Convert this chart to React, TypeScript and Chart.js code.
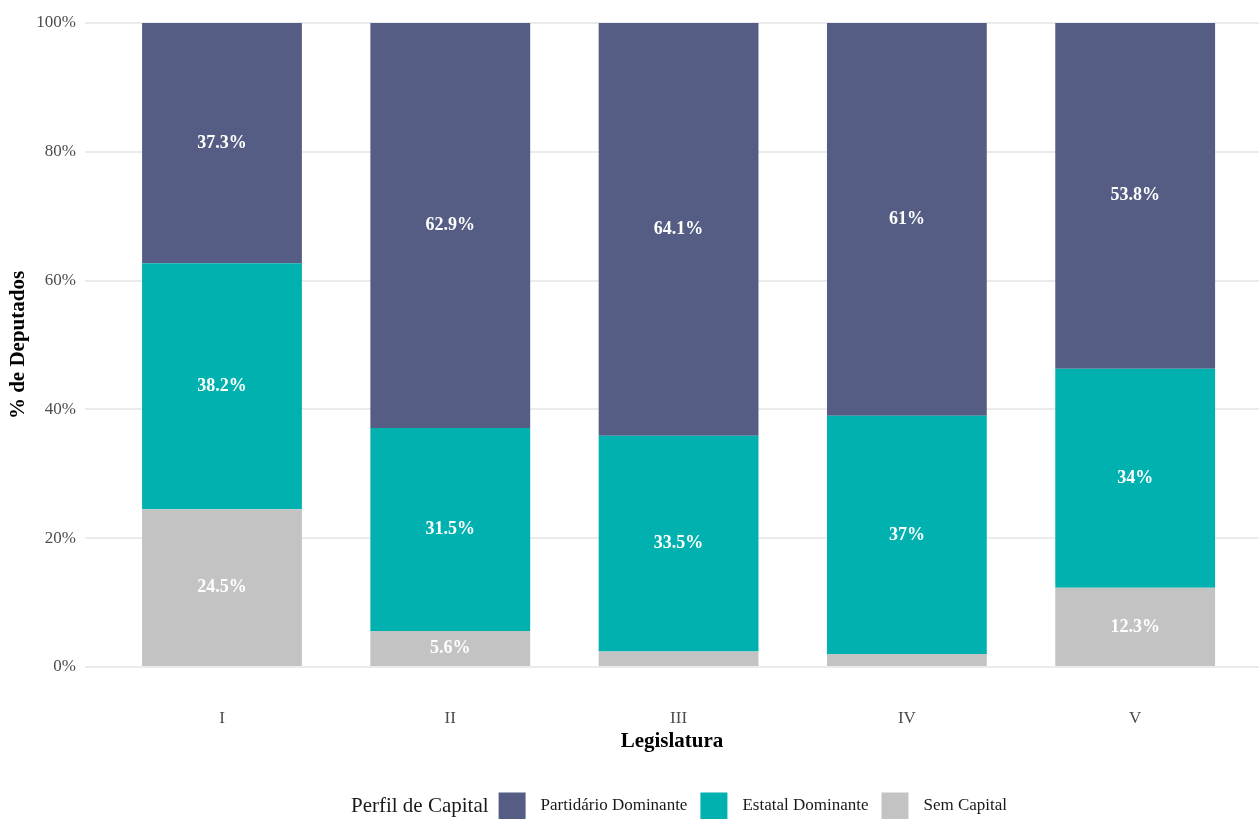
import React, { useEffect, useRef } from "react";
import { Chart, registerables } from "chart.js";

Chart.register(...registerables);

const categories = ["I", "II", "III", "IV", "V"];
const semCapital = [24.5, 5.6, 2.4, 2.0, 12.3];
const estatalDominante = [38.2, 31.5, 33.5, 37, 34];
const partidarioDominante = [37.3, 62.9, 64.1, 61, 53.8];
const yTicks = [0, 20, 40, 60, 80, 100];

const seriesNames = ["Sem Capital", "Estatal Dominante", "Partidário Dominante"];
const seriesColors = ["#c3c3c3", "#00b1b0", "#555d84"];
const legendOrder = [2, 1, 0];
const legendTitle = "Perfil de Capital";

const SERIF = "'Liberation Serif', 'DejaVu Serif', serif";

const labelPlugin = {
  id: "segLabels",
  afterDatasetsDraw(chart: any) {
    const ctx = chart.ctx;
    ctx.save();
    ctx.fillStyle = "#ffffff";
    ctx.font = `bold 18px ${SERIF}`;
    ctx.textAlign = "center";
    ctx.textBaseline = "middle";
    chart.data.datasets.forEach((ds: any, di: number) => {
      const meta = chart.getDatasetMeta(di);
      meta.data.forEach((el: any, i: number) => {
        const v = ds.data[i].y;
        if (v < 3) return;
        const y = (el.y + el.base) / 2;
        ctx.fillText(`${v}%`, el.x, y);
      });
    });
    ctx.restore();
  },
};

const legendPlugin = {
  id: "customLegend",
  afterDraw(chart: any) {
    const ctx = chart.ctx;
    ctx.save();
    const cy = 806;
    const box = 27;
    ctx.font = `21px ${SERIF}`;
    const titleW = ctx.measureText(legendTitle).width;
    ctx.font = `17px ${SERIF}`;
    const labelWs = legendOrder.map((k) => ctx.measureText(seriesNames[k]).width);
    const gapTitle = 10;
    const gapBoxLabel = 15;
    const gapItems = 13;
    let total = titleW + gapTitle;
    labelWs.forEach((w, i) => {
      total += box + gapBoxLabel + w + (i < labelWs.length - 1 ? gapItems : 0);
    });
    let x = 679 - total / 2;
    ctx.textBaseline = "middle";
    ctx.textAlign = "left";
    ctx.fillStyle = "#1a1a1a";
    ctx.font = `21px ${SERIF}`;
    ctx.fillText(legendTitle, x, cy);
    x += titleW + gapTitle;
    ctx.font = `17px ${SERIF}`;
    legendOrder.forEach((k, i) => {
      ctx.fillStyle = seriesColors[k];
      ctx.fillRect(x, cy - box / 2, box, box);
      x += box + gapBoxLabel;
      ctx.fillStyle = "#1a1a1a";
      ctx.fillText(seriesNames[k], x, cy);
      x += labelWs[i] + gapItems;
    });
    ctx.restore();
  },
};

export default function App() {
  const ref = useRef<HTMLCanvasElement | null>(null);
  useEffect(() => {
    document.body.style.margin = "0";
    const seriesData = [semCapital, estatalDominante, partidarioDominante];
    const chart = new Chart(ref.current as HTMLCanvasElement, {
      type: "bar",
      data: {
        datasets: seriesData.map((arr, si) => ({
          label: seriesNames[si],
          data: arr.map((v, i) => ({ x: i + 1, y: v })),
          backgroundColor: seriesColors[si],
          borderWidth: 0,
          barPercentage: 0.7,
          categoryPercentage: 1,
          stack: "s",
        })),
      },
      options: {
        animation: false,
        responsive: false,
        maintainAspectRatio: false,
        layout: { padding: { left: 0, right: 0, top: 23, bottom: 61 } },
        plugins: { legend: { display: false }, tooltip: { enabled: false } },
        scales: {
          x: {
            type: "linear",
            stacked: true,
            offset: false,
            min: 0.4,
            max: 0.4 + (1259 - 85) / 228.3,
            afterBuildTicks: (scale: any) => {
              scale.ticks = categories.map((_, i) => ({ value: i + 1 }));
            },
            afterFit: (scale: any) => {
              scale.height = 91;
            },
            grid: { display: false, drawTicks: false },
            border: { display: false },
            ticks: {
              padding: 41,
              color: "#4d4d4d",
              font: { family: SERIF, size: 17 },
              callback: (v: any) => categories[Math.round(Number(v)) - 1] ?? "",
            },
            title: {
              display: true,
              text: "Legislatura",
              color: "#000",
              font: { family: SERIF, size: 21, weight: "bold" },
              padding: { top: 0, bottom: 4 },
            },
          },
          y: {
            stacked: true,
            min: 0,
            max: 100,
            afterBuildTicks: (scale: any) => {
              scale.ticks = yTicks.map((v) => ({ value: v }));
            },
            afterFit: (scale: any) => {
              scale.width = 85;
            },
            grid: { color: "#ebebeb", lineWidth: 2, drawTicks: false },
            border: { display: false },
            ticks: {
              padding: 9,
              color: "#4d4d4d",
              font: { family: SERIF, size: 17 },
              callback: (v: any) => `${v}%`,
            },
            title: {
              display: true,
              text: "% de Deputados",
              color: "#000",
              font: { family: SERIF, size: 21, weight: "bold" },
              padding: { top: 6, bottom: 0 },
            },
          },
        },
      } as any,
      plugins: [labelPlugin, legendPlugin],
    });
    return () => chart.destroy();
  }, []);
  return <canvas ref={ref} width={1259} height={819} style={{ display: "block" }} />;
}
